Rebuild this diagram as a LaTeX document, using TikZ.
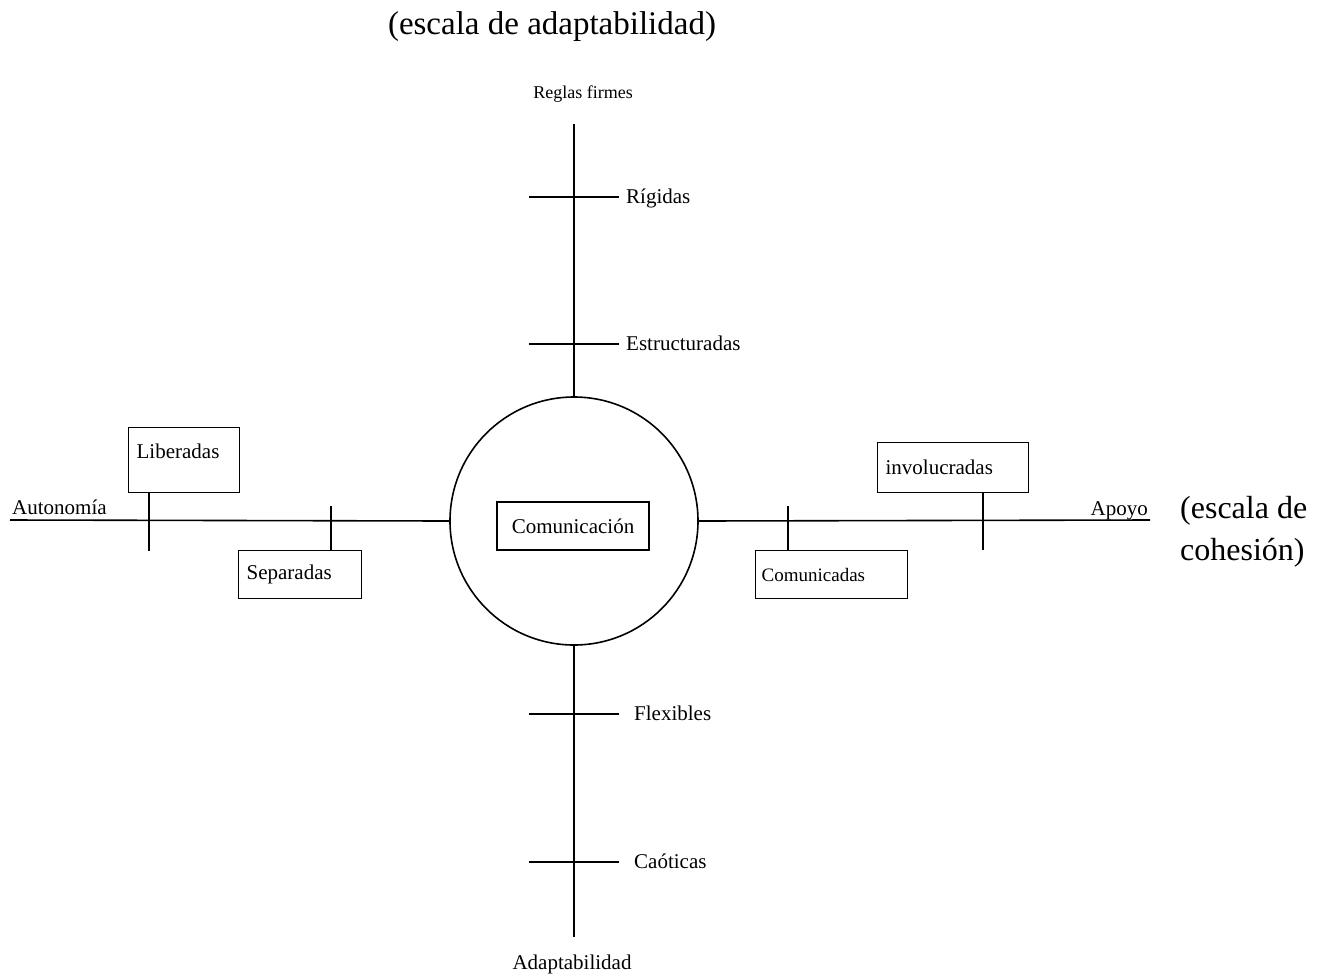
\documentclass[tikz,border=0pt]{standalone}
\usepackage{fontspec}
\setmainfont{Liberation Serif}
\usetikzlibrary{positioning}
\tikzset{
  eje/.style={line width=1.6pt},
  caja/.style={draw, line width=1.3pt, anchor=north west, align=left,
    inner xsep=8pt, inner ysep=0pt, font=\fontsize{21}{25}\selectfont},
  marca/.style={font=\fontsize{21}{25}\selectfont, inner sep=0pt, anchor=mid west},
}
\begin{document}
\begin{tikzpicture}[x=1pt,y=-1pt]
  \useasboundingbox (0,0) rectangle (1325,978);
  % titulos de las escalas
  \node[font=\fontsize{33}{38}\selectfont] (titulo) at (552,27) {(escala de adaptabilidad)};
  \node[font=\fontsize{32}{42}\selectfont, align=left, anchor=north west,
    inner sep=0pt] (cohesion) at (1180,496) {(escala de\\cohesión)};
  % circulo central
  \node[draw, circle, eje, minimum size=248pt, inner sep=0pt] (circ) at (574,521) {};
  \node[draw, line width=1.3pt, minimum width=152pt, minimum height=48pt,
    font=\fontsize{21}{25}\selectfont] (com) at (573,526) {Comunicación};
  % ejes
  \coordinate (arriba) at (574,124);
  \coordinate (abajo) at (574,937);
  \coordinate (izq) at (10,520);
  \coordinate (der) at (1150,520);
  \draw[eje] (arriba) -- (circ.north);
  \draw[eje] (circ.south) -- (abajo);
  \draw[eje] (izq) -- (circ.west);
  \draw[eje] (circ.east) -- (der);
  \node[font=\fontsize{18}{22}\selectfont] (reglas) at (583,94) {Reglas firmes};
  \node[font=\fontsize{21}{25}\selectfont] (adapt) at (572,964) {Adaptabilidad};
  \node[marca, anchor=base west] (auto) at (12,514) {Autonomía};
  \node[marca, anchor=base east] (apoyo) at (1148,515) {Apoyo};
  % marcas del eje vertical
  \foreach \y/\texto/\xt [count=\i] in {197/Rígidas/626, 344/Estructuradas/626,
      714/Flexibles/634, 862/Caóticas/634}{
    \coordinate (mi\i) at (529,\y);
    \coordinate (md\i) at (619,\y);
    \draw[eje] (mi\i) -- (md\i);
    \node[marca] (et\i) at (\xt,\y+4) {\texto};
  }
  % cajas del eje horizontal
  \node[caja, text width=95pt, minimum height=65pt, text depth=18pt] (lib) at (128,427) {Liberadas};
  \node[caja, text width=107pt, minimum height=48pt] (sep) at (238,550) {Separadas};
  \node[caja, text width=135pt, minimum height=50pt] (inv) at (877,442) {involucradas};
  \node[caja, text width=140pt, minimum height=48pt, inner xsep=6pt,
    font=\fontsize{19}{23}\selectfont] (cmd) at (755,550) {Comunicadas};
  \coordinate (libfin) at (149,551);
  \draw[eje] (lib.south -| libfin) -- (libfin);
  \coordinate (sepini) at (331,506);
  \draw[eje] (sepini) -- (sepini |- sep.north);
  \coordinate (invfin) at (983,550);
  \draw[eje] (inv.south -| invfin) -- (invfin);
  \coordinate (cmini) at (788,506);
  \draw[eje] (cmini) -- (cmini |- cmd.north);
\end{tikzpicture}
\end{document}
